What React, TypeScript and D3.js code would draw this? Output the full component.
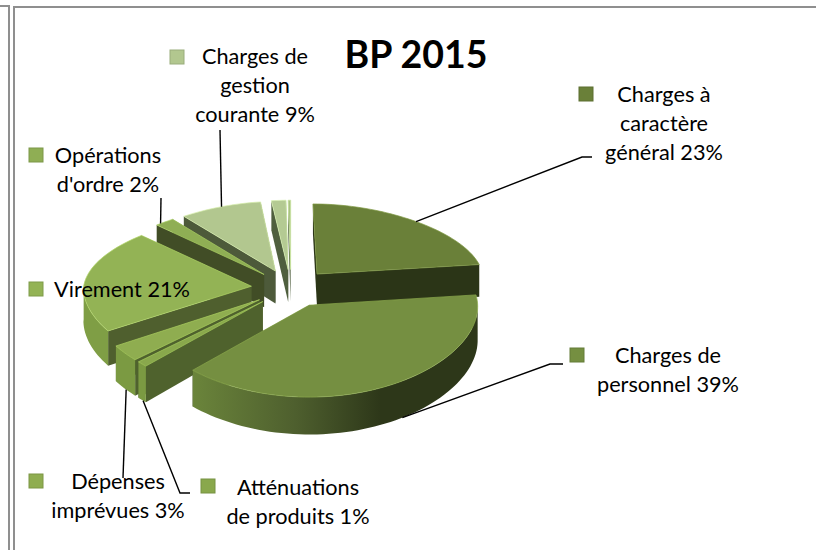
import React from 'react';
import * as d3 from 'd3';

const title = 'BP 2015';
const categories = [
    'Charges à caractère général', 'Charges de personnel', 'Atténuations de produits',
    'Dépenses imprévues', 'Virement', "Opérations d'ordre", 'Charges de gestion courante', '', '',
];
const values = [23, 39, 1, 3, 21, 2, 9, 1.7, 0.3];
const labelLines = [
    ['Charges à', 'caractère', 'général 23%'],
    ['Charges de', 'personnel 39%'],
    ['Atténuations', 'de produits 1%'],
    ['Dépenses', 'imprévues 3%'],
    ['Virement 21%'],
    ['Opérations', "d'ordre 2%"],
    ['Charges de', 'gestion', 'courante 9%'],
    [],
    [],
];

const topColors = ['#6a8039', '#758f41', '#89a84c', '#8fad50', '#93b355', '#8fae54', '#b2c78f', '#b4ca93', '#a9c184'];
const wallColors = ['#2b3517', '#2f3a1a', '#4f622d', '#4f622d', '#4f5f2e', '#414d26', '#4d5a3a', '#4f5f3e', '#4f5f3e'];
const rimColors = ['#5d7333', '#6b853b', '#7b9a42', '#7b9a42', '#7f9e45', '#7f9e45', '#a3ba80', '#a3ba80', '#a3ba80'];

// label placement, one row per category that has a label
const labelLayout: any[] = [
    { i: 0, cx: 664, y: 94, sx: 586, sy: 94, anchor: 43, face: 'top', elbow: [[582, 157], [592, 157]] },
    { i: 1, cx: 668, y: 355, sx: 577, sy: 355, anchor: 147, face: 'bottom', elbow: [[550, 364], [563, 364]] },
    { i: 2, cx: 298, y: 487, sx: 208, sy: 486, anchor: 224.5, face: 'bottom', elbow: [[180, 493], [190, 493]] },
    { i: 3, cx: 118, y: 481, sx: 36, sy: 481, anchor: 231.5, face: 'bottom', elbow: [[123, 478]] },
    { i: 4, cx: 122, y: 289, sx: 36, sy: 289, anchor: null, face: 'top', elbow: [] },
    { i: 5, cx: 108, y: 155, sx: 36, sy: 155, anchor: 315, face: 'top', elbow: [[161, 198]] },
    { i: 6, cx: 255, y: 56, sx: 177, sy: 57, anchor: 336.6, face: 'top', elbow: [[220, 130]] },
];

const lineHeight = 29;
const cx = 291, cy = 288;
const R = 168, kR = 79.5;
const explode = 0.237;
const persp = 0.097;
const depth = 33;
const rad = Math.PI / 180;

const arcs = d3.pie<number>().sort(null).startAngle(0).endAngle(2 * Math.PI)(values);

// project a point of the exploded slice onto the screen, z is how far down the side wall
function project(mid: number, theta: number, r: number, z: number): [number, number] {
    const u = explode * Math.sin(mid) + r * Math.sin(theta);
    const v = -explode * Math.cos(mid) - r * Math.cos(theta);
    const s = 1 / (1 - persp * v);
    // the far side narrows much more than the near side widens
    const sx = v < 0 ? 1 + 0.06 * v - 0.07 * v * v : Math.pow(s, 0.15);
    return [cx + u * R * sx, cy + v * kR * s + z * depth * s];
}

function sweep(t0: number, t1: number) {
    const steps = Math.max(4, Math.ceil((t1 - t0) / (2 * rad)));
    return d3.range(steps + 1).map(k => t0 + (t1 - t0) * k / steps);
}

const line = d3.line();

function App() {
    const order = d3.range(values.length).sort((a, b) => {
        const ma = (arcs[a].startAngle + arcs[a].endAngle) / 2;
        const mb = (arcs[b].startAngle + arcs[b].endAngle) / 2;
        return Math.cos(mb) - Math.cos(ma);
    });

    const slices = order.map(i => {
        const a = arcs[i];
        const mid = (a.startAngle + a.endAngle) / 2;
        const apex = project(mid, 0, 0, 0);
        const apexLow = project(mid, 0, 0, 1);
        const rim = sweep(a.startAngle, a.endAngle).map(t => project(mid, t, 1, 0));
        const first = rim[0], last = rim[rim.length - 1];
        const low = (t: number) => project(mid, t, 1, 1);

        // outer wall only on the half that faces the viewer
        const t0 = Math.max(a.startAngle, 90 * rad), t1 = Math.min(a.endAngle, 270 * rad);
        const wallTop = t1 > t0 ? sweep(t0, t1).map(t => project(mid, t, 1, 0)) : [];
        const wallLow = t1 > t0 ? sweep(t0, t1).map(low).reverse() : [];

        return (
            <g key={i}>
                <path d={line([apex, last, low(a.endAngle), apexLow]) + 'Z'} fill={wallColors[i]} />
                <path d={line([apex, first, low(a.startAngle), apexLow]) + 'Z'} fill={wallColors[i]} />
                {wallTop.length > 0 && (
                    <path d={line([...wallTop, ...wallLow]) + 'Z'} fill={i === 1 ? 'url(#rimPersonnel)' : rimColors[i]} />
                )}
                <path d={line([apex, ...rim]) + 'Z'} fill={topColors[i]} stroke={d3.color(topColors[i])!.brighter(0.5).formatHex()} strokeWidth={0.7} />
            </g>
        );
    });

    const labels = labelLayout.map(l => {
        const a = arcs[l.i];
        const mid = (a.startAngle + a.endAngle) / 2;
        let leader = null;
        if (l.anchor !== null) {
            const start = project(mid, l.anchor * rad, 1, l.face === 'bottom' ? 1 : 0);
            leader = <path d={line([start, ...l.elbow])!} fill="none" stroke="#000" strokeWidth={1.4} />;
        }
        return (
            <g key={l.i}>
                {leader}
                <rect x={l.sx - 7} y={l.sy - 7} width={14} height={14} fill={topColors[l.i]} stroke={d3.color(topColors[l.i])!.darker(0.4).formatHex()} strokeWidth={1} />
                {labelLines[l.i].map((t: string, k: number) => (
                    <text key={k} x={l.cx} y={l.y + k * lineHeight} textAnchor="middle" dominantBaseline="central"
                          fontFamily="Lato, sans-serif" fontSize={21.7} fill="#000">{t}</text>
                ))}
            </g>
        );
    });

    return (
        <svg width={816} height={550} style={{ position: 'absolute', left: 0, top: 0, background: '#fff' }}>
            <defs>
                <linearGradient id="rimPersonnel" gradientUnits="userSpaceOnUse" x1={cx - 100} x2={cx + 90} y1={0} y2={0}>
                    <stop offset="0" stopColor="#6b853b" />
                    <stop offset="0.55" stopColor="#4e5f2e" />
                    <stop offset="1" stopColor="#2d3719" />
                </linearGradient>
            </defs>
            <g fill="none" stroke="#8f8f8f" strokeWidth={2}>
                <path d="M0,6 H9 V550" />
                <path d="M14,550 V7 H816" />
            </g>
            {slices}
            {labels}
            <text x={416} y={53} textAnchor="middle" dominantBaseline="central" fontFamily="Lato, sans-serif"
                  fontWeight="bold" fontSize={37.5} fill="#000">{title}</text>
        </svg>
    );
}

export default App;
